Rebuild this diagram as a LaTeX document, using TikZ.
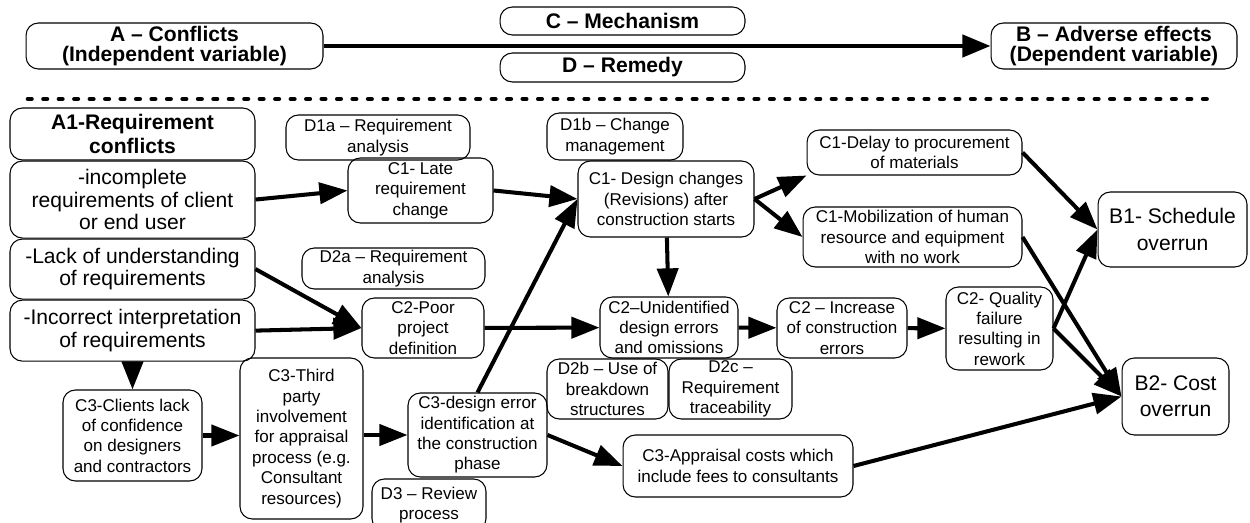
\documentclass[tikz,border=0pt]{standalone}
\usepackage{fontspec}
\setmainfont{Liberation Sans}
\usetikzlibrary{positioning}
\usetikzlibrary{arrows.meta}

\tikzset{
  box/.style={draw, rounded corners=7pt, line width=0.6pt, align=center, inner sep=1pt,
    font=\fontsize{9.7}{11.6}\selectfont},
  headbox/.style={box, font=\fontsize{12}{11.6}\selectfont\bfseries},
  srcbox/.style={box, minimum width=4.9cm, font=\fontsize{12}{13}\selectfont},
  effbox/.style={box, font=\fontsize{12}{15}\selectfont},
  arr/.style={line width=2.3pt, -{Triangle[length=16pt,width=12pt]}},
}

\begin{document}
\begin{tikzpicture}[x=0.02cm, y=-0.02cm]
    \useasboundingbox (0,0) rectangle (1250,523);
    \clip (0,0) rectangle (1250,523);

    % heading
    \node(A) [headbox, minimum width=5.94cm, minimum height=0.92cm] at (174.5,46) {A – Conflicts\\(Independent variable)};
    \node(C) [headbox, minimum width=4.9cm, minimum height=0.56cm] at (622.5,21) {C – Mechanism};
    \node(D) [headbox, minimum width=4.9cm, minimum height=0.58cm] at (622.5,67.5) {D – Remedy};
    \node(B) [headbox, minimum width=4.92cm, minimum height=0.92cm] at (1114,46) {B – Adverse effects\\ (Dependent variable)};
    \coordinate(dl) at (28,99);
    \coordinate(dr) at (1213,99);

    % conflicts
    \node(A1) [srcbox, minimum height=1.04cm, font=\fontsize{12}{14}\selectfont\bfseries] at (132.5,134) {A1-Requirement\\conflicts};
    \node(Inc) [srcbox, minimum height=1.54cm, below=0pt of A1] {-incomplete\\requirements of client\\or end user};
    \node(Lack) [srcbox, minimum height=1.2cm, below=0pt of Inc] {-Lack of understanding\\of requirements};
    \node(Incor) [srcbox, minimum height=1.22cm, below=0pt of Lack] {-Incorrect interpretation\\of requirements};

    % remedies
    \node(D1a) [box, minimum width=3.68cm, minimum height=0.9cm] at (378,137.5) {D1a – Requirement\\analysis};
    \node(D1b) [box, minimum width=2.72cm, minimum height=0.94cm] at (615,136.5) {D1b – Change\\management};
    \node(D2a) [box, minimum width=3.66cm, minimum height=0.82cm] at (393.5,268.5) {D2a – Requirement\\analysis};
    \node(D2b) [box, minimum width=2.42cm, minimum height=1.2cm] at (607.5,389) {D2b – Use of\\breakdown\\structures};
    \node(D2c) [box, minimum width=2.46cm, minimum height=1.2cm] at (730.5,389) {D2c –\\Requirement\\traceability};
    \node(D3) [box, minimum width=2.28cm, minimum height=1.04cm] at (429,505) {D3 – Review\\process};

    % mechanisms
    \node(C1late) [box, minimum width=2.9cm, minimum height=1.3cm] at (420.5,190.5) {C1- Late\\requirement\\change};
    \node(C1des) [box, minimum width=3.52cm, minimum height=1.52cm] at (666,199) {C1- Design changes\\(Revisions) after\\construction starts};
    \node(C1del) [box, minimum width=4.3cm, minimum height=0.9cm] at (914.5,152.5) {C1-Delay to procurement\\of materials};
    \node(C1mob) [box, minimum width=4.38cm, minimum height=1.2cm] at (912.5,237) {C1-Mobilization of human\\resource and equipment\\with no work};
    \node(C2poor) [box, minimum width=2.44cm, minimum height=1.2cm] at (423,328) {C2-Poor\\project\\definition};
    \node(C2uni) [box, minimum width=2.76cm, minimum height=1.22cm] at (669,327.5) {C2–Unidentified\\design errors\\and omissions};
    \node(C2inc) [box, minimum width=2.6cm, minimum height=1.2cm] at (842,328) {C2 – Increase\\of construction\\errors};
    \node(C2qual) [box, minimum width=2.14cm, minimum height=1.66cm] at (999.5,328.5) {C2- Quality\\failure\\resulting in\\rework};
    \node(C3cli) [box, minimum width=2.78cm, minimum height=1.82cm] at (132.5,435.5) {C3-Clients lack\\of confidence\\on designers\\and contractors};
    \node(C3thi) [box, minimum width=2.46cm, minimum height=3.22cm] at (301.5,438.5) {C3-Third\\party\\involvement\\for appraisal\\process (e.g.\\Consultant\\resources)};
    \node(C3des) [box, minimum width=2.78cm, minimum height=1.68cm] at (477.5,435) {C3-design error\\identification at\\the construction\\phase};
    \node(C3app) [box, minimum width=4.6cm, minimum height=1.24cm] at (738,466) {C3-Appraisal costs which\\include fees to consultants};

    % adverse effects
    \node(B1) [effbox, minimum width=2.98cm, minimum height=1.5cm] at (1172.5,229.5) {B1- Schedule\\overrun};
    \node(B2) [effbox, minimum width=2.14cm, minimum height=1.54cm] at (1175.5,396.5) {B2- Cost\\overrun};

    \draw[line width=2.6pt, -{Triangle[length=16pt,width=12.5pt]}](A.east) -- (B.west);
    \draw[line width=2.6pt, line cap=round, dash pattern=on 2pt off 6.8pt](dl) -- (dr);

    \draw[arr](Inc.east) -- (C1late.west);
    \draw[arr](Lack.east) -- (C2poor.west);
    \draw[arr](Incor.east) -- (C2poor.west);
    \draw[arr](Incor) -- (C3cli);
    \draw[arr](C3cli.east) -- (C3cli.east -| C3thi.west);
    \draw[arr](C3thi.east |- C3des.west) -- (C3des.west);
    \draw[arr](C1late.east) -- (C1des.west);
    \draw[arr](C3des.north) -- (C1des.west);
    \draw[arr](C1des.east) -- (C1del.south west);
    \draw[arr](C1des.east) -- (C1mob.west);
    \draw[arr](C1des) -- (C2uni);
    \draw[arr](C2poor) -- (C2uni);
    \draw[arr](C2uni) -- (C2inc);
    \draw[arr](C2inc) -- (C2qual);
    \draw[arr](C3des.east) -- (C3app.west);
    \draw[arr](C1del.east) -- (B1.west);
    \draw[arr](C2qual.east) -- (B1.west);
    \draw[arr](C1mob.east) -- (B2.west);
    \draw[arr](C2qual.east) -- (B2.west);
    \draw[arr](C3app.east) -- (B2.west);
\end{tikzpicture}
\end{document}
